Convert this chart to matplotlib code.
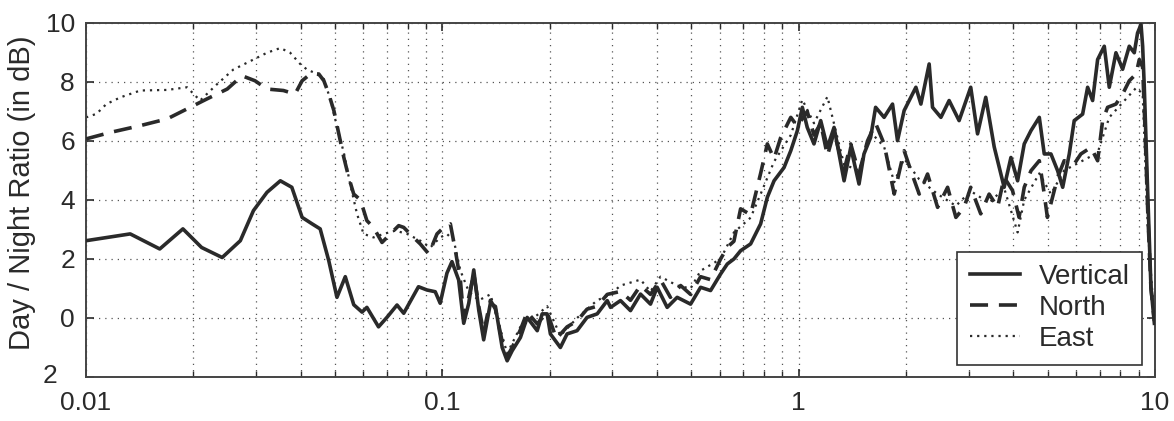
import matplotlib

matplotlib.use("Agg")
import matplotlib.pyplot as plt
from matplotlib.ticker import FixedLocator, LogLocator, NullFormatter

# day/night spectral ratio for the three components
# frequency in Hz, ratio in dB

vert_freq = [
    0.0100, 0.0133, 0.0161, 0.0187, 0.0211, 0.0241, 0.0271, 0.0295, 0.0322,
    0.0351, 0.0378, 0.0404, 0.0431, 0.0454, 0.0480, 0.0506, 0.0534, 0.0564,
    0.0595, 0.0614, 0.0662, 0.0700, 0.0746, 0.0779, 0.0857, 0.0905, 0.0955,
    0.0986, 0.1030, 0.1064, 0.1111, 0.1148, 0.1186, 0.1225, 0.1265, 0.1306,
    0.1364, 0.1409, 0.1472, 0.1520, 0.1570, 0.1656, 0.1730, 0.1846, 0.1906,
    0.1968, 0.2010, 0.2144, 0.2239, 0.2388, 0.2547, 0.2720, 0.2902, 0.2965,
    0.3162, 0.3373, 0.3598, 0.3838, 0.4007, 0.4275, 0.4560, 0.4973, 0.5305,
    0.5659, 0.6037, 0.6305, 0.6580, 0.6871, 0.7330, 0.7820, 0.8166, 0.8529,
    0.9098, 0.9503, 0.9916, 1.024, 1.057, 1.104, 1.153, 1.204, 1.257, 1.341,
    1.400, 1.477, 1.525, 1.592, 1.644, 1.737, 1.834, 1.894, 1.977, 2.133,
    2.203, 2.324, 2.375, 2.507, 2.644, 2.820, 3.040, 3.177, 3.350, 3.538,
    3.773, 3.942, 4.116, 4.296, 4.487, 4.735, 4.889, 5.105, 5.331, 5.508,
    5.747, 5.934, 6.265, 6.471, 6.683, 6.903, 7.206, 7.442, 7.770, 8.114,
    8.469, 8.747, 8.935, 9.138, 9.234, 9.333, 9.530, 9.743, 9.960,
]
vert_db = [
    2.62, 2.85, 2.34, 3.02, 2.39, 2.05, 2.62, 3.64, 4.26,
    4.65, 4.43, 3.41, 3.19, 3.02, 1.94, 0.70, 1.40, 0.45,
    0.20, 0.36, -0.30, 0.03, 0.44, 0.16, 1.06, 0.95, 0.89,
    0.50, 1.52, 1.91, 1.29, -0.18, 0.50, 1.63, 0.27, -0.74,
    0.50, 0.39, -1.00, -1.45, -1.11, -0.66, 0.02, -0.43, 0.14,
    0.14, -0.54, -1.00, -0.54, -0.43, 0.02, 0.14, 0.59, 0.36,
    0.59, 0.25, 0.81, 0.47, 1.04, 0.36, 0.70, 0.47, 1.04,
    0.93, 1.49, 1.83, 2.00, 2.28, 2.51, 3.19, 4.09, 4.65,
    5.10, 5.67, 6.35, 7.14, 6.46, 5.90, 6.69, 5.78, 6.46, 4.65,
    5.78, 4.54, 5.56, 6.12, 7.14, 6.80, 7.25, 6.01, 7.03, 7.82,
    7.25, 8.61, 7.14, 6.80, 7.37, 6.69, 7.82, 6.24, 7.48, 5.80,
    4.43, 5.44, 4.65, 5.90, 6.35, 6.80, 5.56, 5.56, 4.99, 4.43,
    5.56, 6.69, 6.91, 7.82, 7.37, 8.76, 9.21, 7.82, 8.99, 8.43,
    9.21, 8.99, 9.66, 9.95, 9.21, 7.82, 4.43, 1.04, -0.18,
]

north_freq = [
    0.0100, 0.0117, 0.0142, 0.0169, 0.0196, 0.0218, 0.0249, 0.0274, 0.0298,
    0.0322, 0.0358, 0.0386, 0.0404, 0.0426, 0.0450, 0.0465, 0.0480, 0.0496,
    0.0512, 0.0529, 0.0546, 0.0564, 0.0589, 0.0614, 0.0641, 0.0677, 0.0715,
    0.0754, 0.0779, 0.0830, 0.0867, 0.0916, 0.0966, 0.1009, 0.1053, 0.1088,
    0.1124, 0.1148, 0.1186, 0.1225, 0.1265, 0.1306, 0.1364, 0.1409, 0.1472,
    0.1520, 0.1570, 0.1656, 0.1730, 0.1846, 0.1968, 0.2089, 0.2239, 0.2388,
    0.2547, 0.2720, 0.2902, 0.3162, 0.3373, 0.3598, 0.3838, 0.4093, 0.4365,
    0.4664, 0.4973, 0.5305, 0.5659, 0.6037, 0.6305, 0.6580, 0.6871, 0.7330,
    0.7820, 0.8166, 0.8529, 0.8894, 0.9503, 0.9916, 1.057, 1.104, 1.153,
    1.204, 1.257, 1.341, 1.400, 1.477, 1.560, 1.644, 1.737, 1.854, 1.977,
    2.065, 2.179, 2.300, 2.454, 2.618, 2.762, 2.913, 3.040, 3.243, 3.424,
    3.617, 3.773, 3.983, 4.155, 4.296, 4.487, 4.735, 4.889, 4.989, 5.159,
    5.331, 5.561, 5.934, 6.194, 6.607, 6.903, 7.129, 7.362, 7.770, 8.114,
    8.469, 8.851, 9.036, 9.234, 9.370, 9.550, 9.743, 9.960,
]
north_db = [
    6.07, 6.29, 6.52, 6.75, 7.14, 7.42, 7.76, 8.21, 8.04,
    7.76, 7.71, 7.59, 8.04, 8.27, 8.27, 8.04, 7.59, 7.03,
    6.24, 5.44, 4.77, 4.20, 4.00, 3.30, 3.07, 2.56, 2.85,
    3.13, 3.07, 2.73, 2.51, 2.17, 2.85, 3.07, 3.19, 2.28,
    1.26, 0.00, 0.70, 1.50, 0.40, -0.50, 0.60, 0.30, -0.80,
    -1.30, -1.00, -0.40, 0.20, -0.20, 0.20, -0.70, -0.30, -0.10,
    0.30, 0.40, 0.80, 0.90, 0.60, 1.10, 0.80, 1.30, 0.70,
    1.10, 0.80, 1.40, 1.30, 2.00, 2.40, 2.60, 3.70, 3.50,
    4.90, 5.90, 5.40, 6.10, 6.80, 6.50, 7.00, 6.20, 6.60,
    5.50, 6.30, 5.00, 5.90, 4.90, 6.00, 6.60, 5.90, 4.20, 5.67,
    4.99, 4.20, 4.88, 3.75, 4.43, 3.41, 3.75, 4.43, 3.53, 4.20,
    3.75, 4.77, 4.32, 3.41, 4.43, 4.99, 5.33, 4.20, 3.41, 4.09,
    4.77, 5.33, 5.22, 5.56, 5.78, 5.33, 6.69, 7.14, 7.25, 7.59,
    8.04, 8.27, 8.76, 8.50, 6.50, 3.50, 1.00, -0.10,
]

east_freq = [
    0.0100, 0.0107, 0.0114, 0.0125, 0.0142, 0.0169, 0.0192, 0.0209, 0.0232,
    0.0259, 0.0295, 0.0322, 0.0351, 0.0374, 0.0399, 0.0417, 0.0440, 0.0465,
    0.0485, 0.0506, 0.0529, 0.0552, 0.0576, 0.0601, 0.0641, 0.0684, 0.0738,
    0.0796, 0.0867, 0.0925, 0.0986, 0.1030, 0.1077, 0.1124, 0.1186, 0.1265,
    0.1364, 0.1472, 0.1520, 0.1656, 0.1846, 0.1968, 0.2144, 0.2388, 0.2720,
    0.2965, 0.3162, 0.3598, 0.3838, 0.4093, 0.4560, 0.4973, 0.5305, 0.6037,
    0.6580, 0.7330, 0.7820, 0.8529, 0.9503, 1.024, 1.104, 1.204, 1.341,
    1.477, 1.592, 1.737, 1.854, 1.977, 2.179, 2.454, 2.762, 3.040, 3.424,
    3.773, 4.116, 4.296, 4.735, 5.105, 5.561, 6.194, 6.903, 7.442, 8.114,
    8.851, 9.234, 9.550, 9.960,
]
east_db = [
    6.80, 6.92, 7.25, 7.48, 7.71, 7.73, 7.82, 7.37, 7.90,
    8.42, 8.76, 8.99, 9.15, 8.99, 8.61, 8.42, 8.30, 8.10,
    7.40, 6.50, 5.60, 4.50, 3.53, 2.85, 2.73, 2.85, 2.96,
    2.85, 2.62, 2.39, 2.73, 2.85, 2.62, 1.60, 0.90, 0.60,
    0.80, -0.60, -1.20, -0.30, 0.10, 0.40, -0.60, 0.00, 0.60,
    0.80, 1.10, 1.30, 0.90, 1.40, 1.10, 1.00, 1.60, 2.00,
    2.90, 3.40, 4.20, 5.30, 6.20, 7.40, 6.60, 7.50, 5.20,
    5.00, 6.30, 5.80, 4.60, 5.40, 4.70, 4.20, 3.80, 4.30, 3.90,
    4.40, 2.90, 4.00, 4.90, 4.20, 5.00, 5.30, 5.60, 6.80, 7.30,
    7.80, 7.60, 3.00, -0.10,
]

# the bottom label reads "2" in the figure (minus sign lost), drawn apart
y_ticks = [-2, 0, 2, 4, 6, 8, 10]
y_tick_labels = ["", "0", "2", "4", "6", "8", "10"]
bottom_label = "2"
x_ticks = [0.01, 0.1, 1, 10]
x_tick_labels = ["0.01", "0.1", "1", "10"]

ink = "#2a2a2a"
plt.rcParams["font.family"] = ["Liberation Sans", "DejaVu Sans"]

fig = plt.figure(figsize=(11.74, 4.21), dpi=100)
ax = fig.add_axes((0.0733, 0.1045, 0.9105, 0.841))

ax.plot(vert_freq, vert_db, color=ink, lw=2.6, label="Vertical", zorder=4)
ax.plot(north_freq, north_db, color=ink, lw=2.6, dashes=(5, 3),
        label="North", zorder=3)
ax.plot(east_freq, east_db, color=ink, lw=1.6, dashes=(1, 2.2),
        label="East", zorder=2)

ax.set_xscale("log")
ax.set_xlim(0.01, 10)
ax.set_ylim(-2, 10)

ax.xaxis.set_major_locator(FixedLocator(x_ticks))
ax.set_xticklabels(x_tick_labels)
ax.xaxis.set_minor_locator(LogLocator(base=10, subs=range(2, 10)))
ax.xaxis.set_minor_formatter(NullFormatter())
ax.set_yticks(y_ticks)
ax.set_yticklabels(y_tick_labels)

ax.grid(True, which="both", axis="x", ls=(0, (1, 4)), color="#555555", lw=0.9)
ax.grid(True, which="major", axis="y", ls=(0, (1, 4)), color="#555555", lw=0.9)

ax.tick_params(which="both", direction="in", top=True, right=True,
               labelsize=19, colors=ink)
ax.tick_params(axis="y", pad=8)
ax.tick_params(axis="x", pad=10)
ax.tick_params(which="major", length=6, width=1.2)
ax.tick_params(which="minor", length=4, width=1.0)
for side in ax.spines.values():
    side.set_color("#444444")
    side.set_linewidth(1.4)

ax.text(-0.027, -1.95, bottom_label, transform=ax.get_yaxis_transform(),
        ha="right", va="center", fontsize=19, color=ink)

ax.set_ylabel("Day / Night Ratio (in dB)", fontsize=21, color=ink, labelpad=4)
ax.yaxis.set_label_coords(-0.047, 0.52)

leg = ax.legend(loc="lower right", fontsize=20, handlelength=1.8,
                handletextpad=0.7, labelspacing=0.18, borderpad=0.45,
                borderaxespad=0.45, fancybox=False, framealpha=1,
                edgecolor="#333333")
leg.get_frame().set_linewidth(1.2)
for t in leg.get_texts():
    t.set_color(ink)

fig.savefig("out.png", dpi=100)
